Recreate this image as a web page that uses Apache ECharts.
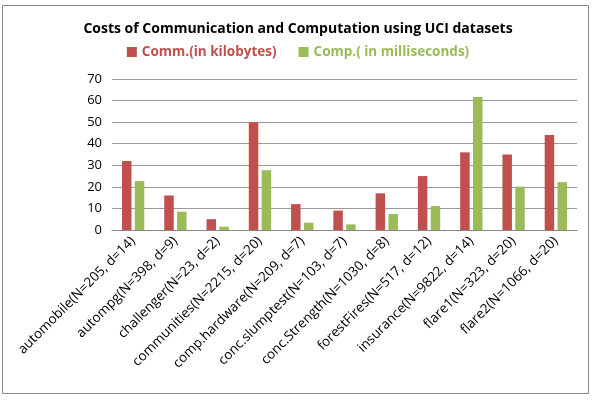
<!DOCTYPE html>
<html><head><meta charset="utf-8">
<script src="https://cdn.jsdelivr.net/npm/echarts@6/dist/echarts.min.js"></script>
<style>html,body{margin:0;padding:0;background:#fff}#c{width:596px;height:404px}</style>
</head><body><div id="c"></div>
<script>
const categories = ["automobile(N=205, d=14)","autompg(N=398, d=9)","challenger(N=23, d=2)","communities(N=2215, d=20)","comp.hardware(N=209, d=7)","conc.slumptest(N=103, d=7)","conc.Strength(N=1030, d=8)","forestFires(N=517, d=12)","insurance(N=9822, d=14)","flare1(N=323, d=20)","flare2(N=1066, d=20)"];
const commKB = [32, 16, 5, 50, 12, 9, 17, 25, 36, 35, 44];
const compMs = [22.7, 8.5, 1.5, 27.7, 3.4, 2.6, 7.4, 11.1, 61.7, 20.1, 22.2];
const yTicks = {min: 0, max: 70, interval: 10};

const font = "'Open Sans', 'Noto Sans', sans-serif";
const chart = echarts.init(document.getElementById('c'), null, {renderer: 'canvas'});
chart.setOption({
  backgroundColor: '#fff',
  animation: false,
  title: {
    text: 'Costs of Communication and Computation using UCI datasets',
    left: 'center', top: 17,
    textStyle: {fontFamily: font, fontWeight: 'bold', fontSize: 14, color: '#000'}
  },
  legend: {
    top: 40, left: 'center', itemWidth: 10, itemHeight: 10, itemGap: 22,
    icon: 'rect',
    textStyle: {fontFamily: font, fontSize: 13.5, fontWeight: 'bold'},
    data: [
      {name: 'Comm.(in kilobytes)', textStyle: {color: '#c0504d'}},
      {name: 'Comp.( in milliseconds)', textStyle: {color: '#9bbb59'}}
    ]
  },
  graphic: [{
    type: 'rect', shape: {x: 2.5, y: 5.5, width: 586, height: 388},
    style: {fill: 'none', stroke: '#888', lineWidth: 1}, silent: true, z: -1
  }],
  grid: {left: 112, top: 79, width: 465, height: 151, containLabel: false},
  xAxis: {
    type: 'category', data: categories,
    axisTick: {show: false},
    axisLine: {lineStyle: {color: '#888'}},
    axisLabel: {rotate: 45, interval: 0, fontFamily: font, fontSize: 13.5, color: '#000', margin: 9}
  },
  yAxis: {
    type: 'value', min: yTicks.min, max: yTicks.max, interval: yTicks.interval,
    axisLine: {show: false}, axisTick: {show: false},
    splitLine: {lineStyle: {color: '#999'}},
    axisLabel: {fontFamily: font, fontSize: 13, color: '#000', margin: 10}
  },
  series: [
    {name: 'Comm.(in kilobytes)', type: 'bar', data: commKB, barWidth: 9.5, barGap: '35%',
     itemStyle: {color: '#c0504d'}},
    {name: 'Comp.( in milliseconds)', type: 'bar', data: compMs, barWidth: 9.5,
     itemStyle: {color: '#9bbb59'}}
  ]
});
</script></body></html>
